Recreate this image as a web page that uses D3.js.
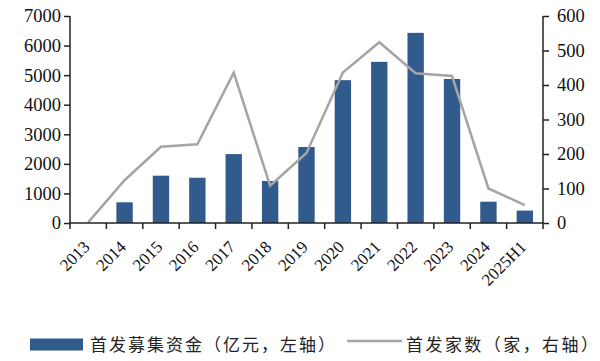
<!DOCTYPE html>
<html><head><meta charset="utf-8">
<script src="https://cdn.jsdelivr.net/npm/d3@7"></script>
<style>body{margin:0;background:#fff}svg{display:block}</style>
</head><body><svg id="c" width="600" height="361"></svg>
<script>
const categories = ["2013","2014","2015","2016","2017","2018","2019","2020","2021","2022","2023","2024","2025H1"];
const fundsRaised = [0,700,1600,1530,2330,1420,2570,4830,5450,6430,4870,720,420];
const ipoCount = [2,124,221,228,436,108,203,436,524,434,426,100,52];
const leftTicks = [0,1000,2000,3000,4000,5000,6000,7000];
const rightTicks = [0,100,200,300,400,500,600];
const legendLabels = ["首发募集资金（亿元，左轴）","首发家数（家，右轴）"];

const svg = d3.select("#c");
const L=70,R=543,T=16,B=223;
const x = d3.scaleBand().domain(categories).range([L,R]).paddingInner(0).paddingOuter(0);
const yL = d3.scaleLinear().domain([0,7000]).range([B,T]);
const yR = d3.scaleLinear().domain([0,600]).range([B,T]);
const barColor="#325b8d", lineColor="#a5a5a5", axisColor="#222";
const serif="'Liberation Serif','Times New Roman',serif";

// bars
const bw = x.bandwidth()*0.45;
svg.append("g").selectAll("rect").data(categories).join("rect")
 .attr("x",d=>x(d)+x.bandwidth()/2-bw/2)
 .attr("y",(d,i)=>yL(fundsRaised[i]))
 .attr("width",bw)
 .attr("height",(d,i)=>B-yL(fundsRaised[i]))
 .attr("fill",barColor);

// line
const line = d3.line().x((d,i)=>x(categories[i])+x.bandwidth()/2).y(d=>yR(d));
svg.append("path").datum(ipoCount).attr("d",line)
 .attr("fill","none").attr("stroke",lineColor).attr("stroke-width",2.5).attr("stroke-linejoin","miter");

// axes
const ax = svg.append("g").attr("transform",`translate(0,${B})`);
ax.append("line").attr("x1",L).attr("x2",R).attr("stroke",axisColor).attr("stroke-width",1.5);
const bounds = categories.map(c=>x(c)).concat([R]);
ax.selectAll("line.t").data(bounds).join("line").attr("class","t")
 .attr("x1",d=>d).attr("x2",d=>d).attr("y1",0).attr("y2",6).attr("stroke",axisColor).attr("stroke-width",1.5);
ax.selectAll("text").data(categories).join("text")
 .attr("transform",d=>`translate(${x(d)+x.bandwidth()/2+2.5},${25}) rotate(-45)`)
 .attr("text-anchor","end")
 .attr("font-family",serif).attr("font-size",17).attr("fill","#111").text(d=>d);

const yl = d3.axisLeft(yL).tickValues(leftTicks).tickSize(6).tickPadding(3).tickFormat(d3.format("d"));
const gl = svg.append("g").attr("transform",`translate(${L},0)`).call(yl);
const yr = d3.axisRight(yR).tickValues(rightTicks).tickSize(6).tickPadding(8).tickFormat(d3.format("d"));
const gr = svg.append("g").attr("transform",`translate(${R},0)`).call(yr);
[gl,gr].forEach(g=>{
 g.select(".domain").attr("stroke",axisColor).attr("stroke-width",1.5).attr("d",`M0,${T}V${B}`);
 g.selectAll(".tick line").attr("stroke",axisColor).attr("stroke-width",1.5);
 g.selectAll(".tick text").attr("font-family",serif).attr("font-size",18.5).attr("fill","#111");
});

// legend
const lg = svg.append("g");
const cjk="'Noto Sans CJK SC','Noto Sans CJK JP',sans-serif";
lg.append("rect").attr("x",30).attr("y",338.5).attr("width",53).attr("height",12).attr("fill",barColor);
lg.append("text").attr("x",90).attr("y",351).attr("font-family",cjk).attr("font-size",17)
 .attr("textLength",245).attr("lengthAdjust","spacing").attr("fill","#222").text(legendLabels[0]);
lg.append("line").attr("x1",347).attr("x2",402).attr("y1",341).attr("y2",341).attr("stroke",lineColor).attr("stroke-width",2.5);
lg.append("text").attr("x",406).attr("y",351).attr("font-family",cjk).attr("font-size",17)
 .attr("textLength",192).attr("lengthAdjust","spacing").attr("fill","#222").text(legendLabels[1]);
</script></body></html>
